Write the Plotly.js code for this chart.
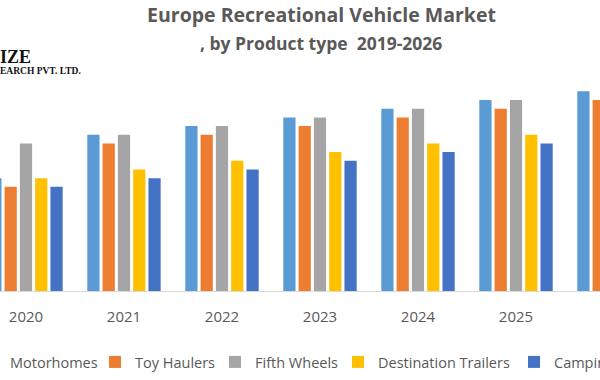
<!DOCTYPE html>
<html>
<head>
<meta charset="utf-8">
<script src="https://cdn.plot.ly/plotly-3.0.1.min.js"></script>
<style>html,body{margin:0;padding:0;background:#fff;}#chart{width:600px;height:380px;}</style>
</head>
<body>
<div id="chart"></div>
<script>
// Data
const years = ["2020", "2021", "2022", "2023", "2024", "2025", "2026"];
const motorhomes = [13, 18, 19, 20, 21, 22, 23];
const toyHaulers = [12, 17, 18, 19, 20, 21, 22];
const fifthWheels = [17, 18, 19, 20, 21, 22, 23];
const destinationTrailers = [13, 14, 15, 16, 17, 18, 19];
const campingTrailers = [12, 13, 14, 15, 16, 17, 18];

const seriesNames = ["Motorhomes", "Toy Haulers", "Fifth Wheels", "Destination Trailers", "Camping Trailers"];
const seriesValues = [motorhomes, toyHaulers, fifthWheels, destinationTrailers, campingTrailers];
const seriesColors = ["#5B9BD5", "#ED7D31", "#A5A5A5", "#FFC000", "#4472C4"];

const W = 600, H = 380, mT = 74, mB = 89;
const plotH = H - mT - mB;
const py = p => (H - mB - p) / plotH; // pixel y -> paper y
const px = p => p / W;                // pixel x -> paper x

const legendIds = ['legend', 'legend2', 'legend3', 'legend4', 'legend5'];
const legendTextStart = [7, 132, 252, 375, 551];

const traces = seriesNames.map((n, i) => ({
  type: 'bar', name: n, x: years, y: seriesValues[i],
  marker: {color: seriesColors[i]}, hoverinfo: 'skip', legend: legendIds[i]
}));

const font = "'Open Sans', 'Liberation Sans', sans-serif";
const layout = {
  width: W, height: H,
  margin: {l: 0, r: 0, t: mT, b: mB, pad: 0, autoexpand: false},
  paper_bgcolor: '#ffffff', plot_bgcolor: '#ffffff',
  barmode: 'group', bargap: 0.22, bargroupgap: 0.2,
  showlegend: true,
  title: {text: 'Europe Recreational Vehicle Market', x: 321.5 / W, xanchor: 'center', y: 1 - 15.5 / H, yanchor: 'middle',
          font: {family: font, size: 19.5, color: '#595959', weight: 'bold'}},
  xaxis: {type: 'category', range: [-0.265, 5.857], showgrid: false, zeroline: false,
          showline: true, linecolor: '#d9d9d9', linewidth: 1, ticks: '', ticklabelstandoff: 12,
          tickfont: {family: font, size: 15, color: '#595959'}, fixedrange: true},
  yaxis: {range: [0, 25], visible: false, showgrid: false, zeroline: false, fixedrange: true},
  annotations: [
    {text: ', by Product type  2019-2026', xref: 'paper', yref: 'paper', x: 321 / W, y: py(43),
     xanchor: 'center', yanchor: 'middle', showarrow: false,
     font: {family: font, size: 17.5, color: '#595959', weight: 'bold'}},
    {text: 'IZE', xref: 'paper', yref: 'paper', x: px(-2), y: py(57), xanchor: 'left', yanchor: 'middle',
     showarrow: false, font: {family: "'Liberation Serif', 'DejaVu Serif', serif", size: 18, color: '#111111', weight: 'bold'}},
    {text: 'EARCH PVT. LTD.', xref: 'paper', yref: 'paper', x: px(-2), y: py(71), xanchor: 'left', yanchor: 'middle',
     showarrow: false, font: {family: "'Liberation Serif', 'DejaVu Serif', serif", size: 9.5, color: '#111111', weight: 'bold'}}
  ]
};

legendIds.forEach((id, i) => {
  layout[id] = {orientation: 'h', x: px(legendTextStart[i] - 37), xanchor: 'left', y: py(362), yanchor: 'middle',
                font: {family: font, size: 14.5, color: '#595959'}, bgcolor: 'rgba(0,0,0,0)', borderwidth: 0};
});

Plotly.newPlot('chart', traces, layout, {displayModeBar: false, staticPlot: true});
</script>
</body>
</html>
